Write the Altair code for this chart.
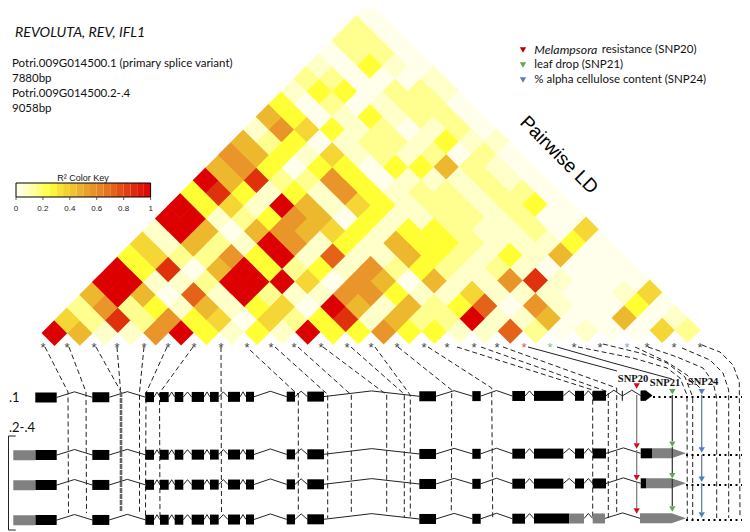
import altair as alt
import pandas as pd

# ---- pairwise LD: R2 bin of each cell, one list per distance between SNPs
R2_LEVELS = [0.01, 0.07, 0.15, 0.25, 0.36, 0.46, 0.56, 0.72, 0.86, 1.0]
LD_ROWS = [
 [9,5,1,1,6,9,3,1,3,1,9,3,3,6,3,3,1,1,7,2,0,1,0,0,4,2],
 [4,2,8,2,6,3,4,0,4,2,3,8,1,5,2,2,9,1,1,5,0,0,5,0,1],
 [2,6,2,3,1,5,1,3,4,0,9,5,1,5,2,3,7,0,6,1,0,0,3,0],
 [5,9,5,0,7,1,9,2,1,1,6,6,3,1,1,4,1,1,1,0,0,1,4],
 [9,9,1,1,2,9,9,9,4,0,6,5,0,5,1,1,6,8,1,0,0,0],
 [9,3,8,0,5,9,3,2,3,1,6,2,3,2,1,2,1,0,0,0,0],
 [3,4,2,2,6,3,9,1,7,1,1,5,3,2,1,3,1,5,0,0],
 [4,1,5,2,1,9,6,1,3,1,5,3,3,2,1,1,1,3,0],
 [1,9,5,0,5,6,5,4,3,1,3,3,2,1,1,2,0,4],
 [9,9,1,2,3,6,5,0,3,1,1,2,2,1,2,0,0],
 [9,3,4,1,9,5,1,4,3,1,2,2,1,2,3,0],
 [3,8,3,1,3,1,6,3,1,2,2,1,2,2,0],
 [9,5,8,2,2,6,3,0,1,1,1,2,1,0],
 [5,6,3,0,3,3,0,3,3,5,2,1,0],
 [6,5,3,1,4,1,2,1,2,0,2,0],
 [5,2,3,0,1,2,2,1,3,1,1],
 [1,6,4,3,1,2,0,1,2,0],
 [5,3,0,1,3,1,2,2,0],
 [3,0,2,0,1,2,2,0],
 [1,3,3,0,2,2,1],
 [2,2,0,0,0,1],
 [1,0,3,1,0],
 [0,2,2,0],
 [2,2,0],
 [2,0],
 [0],
]
CELL_X0, CELL_DX, CELL_Y0, CELL_DY, CELL_TILT = 54.5, 12.66, 333.0, 12.66, 0.0048

COLOR_STOPS = [0.0, 0.1, 0.2, 0.25, 0.35, 0.45, 0.55, 0.65, 0.75, 0.85, 1.0]
COLOR_RANGE = ["#FFFFF2", "#FFFFB8", "#FFFF66", "#FFFF33", "#F6D936", "#EEBB2E",
               "#E9982A", "#E67E20", "#E35816", "#E0340E", "#DC0000"]

# ---- SNP markers
SNP_X = [43,67,94,117,144,168,194,221,247,271,294,321,347,371,397,424,447,474,497,524,550,574,600,627,647,674,700]
SNP_Y = 345
SNP_COLOR = ["#444444"]*19 + ["#E0506A", "#7FBF7F", "#444444", "#444444", "#8FA0D0", "#444444", "#444444", "#444444"]

# ---- connectors from SNP marker to gene model
DASHED = [
 [(45,347),(68,392),(68.5,513)],
 [(69,347),(86,392),(86.5,513)],
 [(96,347),(120,390),(120.5,392)],
 [(117,347),(120.5,390)],
 [(144,347),(139.5,392),(139.5,513)],
 [(167,347),(146,393),(145.5,517)],
 [(193,347),(159.5,393),(160,517)],
 [(221,347),(221.5,515)],
 [(250,350),(295,392),(298.3,394),(298.3,513)],
 [(275,347),(325,392),(327.7,394),(327.7,518)],
 [(298,347),(348,392),(351.3,394),(351.3,513)],
 [(323,347),(383,392),(386.7,394),(386.7,513)],
 [(351,347),(403,393),(404.3,395),(404.3,518)],
 [(375,347),(409.5,394),(410.3,396),(410.3,518)],
 [(398,347),(451.7,390),(451.3,513)],
 [(428,347),(491.7,388),(492.7,518)],
 [(457,347),(592.7,390),(592.7,517)],
 [(481,347),(608.3,392),(608.3,518)],
 [(503,347),(616.7,388),(616.7,513)],
 [(578,347),(633,358),(667,368),(680,378),(687,395),(687.3,520)],
 [(603,344),(640,353),(667,363),(685,377),(692.7,397),(692.7,520)],
 [(635,347),(667,362),(687,375),(700,388)],
 [(648,347),(677,357),(703,368),(713,382),(716.7,398),(716.7,518)],
 [(682,348),(710,360),(723,373),(728.7,390),(728.7,518)],
 [(702,345),(720,352),(733,365),(739.3,382),(740,518)],
]
SOLID = [
 [(528,347),(617,371)],
 [(557,347),(613,363),(672,379)],
]
THICK = [(121,392),(121,512)]

# ---- gene models
ROW_Y = [396.5, 454.2, 484.2, 519.2]
ROW_TILT = 0.003
EXON_H = 5.0
EX_COMMON = [(35.3,56.7),(92.3,109.3),(145.3,154),(160,168.7),(174.7,183.3),(191.7,204),(210,218.7),
             (228,240),(246,254),(286.7,295),(307.3,324),(419.3,436),(472.3,480.7),(512.3,525)]
EX_TAIL = {
 0: [(534,563.3),(575,584),(592.7,606),(621.8,622.8),(640.7,646)],
 1: [(534,563.3),(575,584),(592.7,606),(640.7,652)],
 2: [(534,563.3),(575,584),(592.7,606),(640.7,646)],
 3: [(534,569.3)],
}
GRAY_BOX = [(1,13.3,35.3),(2,13.3,35.3),(3,13.3,35.3),(3,569.3,584),(3,592.7,605)]
INTRON_END = {3: [(584,592.7),(605,640)]}
ARROWS = [
 (0, "#000000", [640.7,646,652.5], [5,5,0]),
 (1, "#808080", [652,671.7,686], [5,5,0]),
 (2, "#808080", [646,671.7,686], [5,5,0]),
 (3, "#808080", [640,671.7,686], [5,5,0]),
]
DOT_Y = [397, 455, 485, 520]
DOT_START = [653, 686, 686, 686]
DOT_END = 750

# ---- associated SNP arrows
TRI = [
 ("#D01010", 636.7, [386,446,477.7,511]),
 ("#5FA84F", 672.3, [391.7,444.3,475.7,509]),
 ("#4F7FC0", 701.7, [391.7,450,479.3,515]),
]
TRI_LINES = [
 ("#777777", 636.7, [(395,443),(450,475),(482,508)]),
 ("#333333", 672.3, [(395,441),(447,473),(479,506)]),
 ("#5577A0", 701.7, [(395,448),(455,477),(483,512)]),
]

KEY_X, KEY_W, KEY_TOP, KEY_BOT = 16.0, 134.6, 183.0, 197.0
KEY_TICKS = [0, 0.2, 0.4, 0.6, 0.8, 1]
KEY_BINS = 20

XS = alt.Scale(domain=[8, 742])
YS = alt.Scale(domain=[532, 8])
def X(f="x"): return alt.X(f"{f}:Q", scale=XS, axis=None)
def Y(f="y"): return alt.Y(f"{f}:Q", scale=YS, axis=None, stack=None)
def row_y(m, x): return ROW_Y[m] - ROW_TILT*(x-350)

layers = []

# LD cells
cells = []
for r, row in enumerate(LD_ROWS):
    for k, lv in enumerate(row):
        x = CELL_X0 + CELL_DX*(2*k+r)
        y = CELL_Y0 - CELL_DY*r
        cells.append({"x": x + CELL_TILT*(y-CELL_Y0), "y": y - CELL_TILT*(x-CELL_X0), "r2": R2_LEVELS[lv]})
color_q = alt.Color("r2:Q", legend=None, scale=alt.Scale(domain=COLOR_STOPS, range=COLOR_RANGE, interpolate="rgb"))
layers.append(alt.Chart(pd.DataFrame(cells)).mark_point(filled=True, shape="diamond", size=675, opacity=1, strokeWidth=0)
              .encode(x=X(), y=Y(), color=color_q))

# colour key
bins = []
for b in range(KEY_BINS):
    v0, v1 = b/KEY_BINS, (b+1)/KEY_BINS
    bins.append({"x": KEY_X+KEY_W*v0, "x2": KEY_X+KEY_W*v1, "y": KEY_TOP, "y2": KEY_BOT, "r2": (v0+v1)/2})
layers.append(alt.Chart(pd.DataFrame(bins)).mark_rect(strokeWidth=0)
              .encode(x=X(), x2="x2:Q", y=Y(), y2="y2:Q", color=color_q))
layers.append(alt.Chart(pd.DataFrame([{"x":KEY_X,"x2":KEY_X+KEY_W,"y":KEY_TOP,"y2":KEY_BOT}]))
              .mark_rect(fill=None, stroke="#000000", strokeWidth=1)
              .encode(x=X(), x2="x2:Q", y=Y(), y2="y2:Q"))
ticks = pd.DataFrame([{"x":KEY_X+KEY_W*t,"y":KEY_BOT,"y2":KEY_BOT+3,"t":str(t)} for t in KEY_TICKS])
layers.append(alt.Chart(ticks).mark_rule(color="#333333", strokeWidth=0.8).encode(x=X(), y=Y(), y2="y2:Q"))
layers.append(alt.Chart(ticks).mark_text(font="Liberation Sans", fontSize=8, color="#222222", dy=9)
              .encode(x=X(), y=Y("y2"), text="t:N"))

def lines(paths, **kw):
    rows = []
    for i, p in enumerate(paths):
        for o, (x, y) in enumerate(p):
            rows.append({"x": x, "y": y, "o": o, "id": i})
    return alt.Chart(pd.DataFrame(rows)).mark_line(**kw).encode(x=X(), y=Y(), order="o:Q", detail="id:N")

# introns
introns = []
for m in range(len(ROW_Y)):
    ex = EX_COMMON + EX_TAIL[m]
    spans = [(ex[i][1], ex[i+1][0]) for i in range(len(ex)-1)] + INTRON_END.get(m, [])
    for a, b in spans:
        rise = 5.5 if b-a > 12 else 5
        introns.append([(a, row_y(m,a)), ((a+b)/2, row_y(m,(a+b)/2)-rise), (b, row_y(m,b))])
layers.append(lines(introns, color="#222222", strokeWidth=1))

# connectors
layers.append(lines(DASHED, color="#222222", strokeWidth=1, strokeDash=[5, 3]))
layers.append(lines(SOLID, color="#222222", strokeWidth=1))
layers.append(lines([THICK], color="#666666", strokeWidth=2.6, strokeDash=[5, 1]))

# exons
ex_rows = []
for m in range(len(ROW_Y)):
    for a, b in EX_COMMON + EX_TAIL[m]:
        yc = row_y(m, (a+b)/2)
        ex_rows.append({"x":a,"x2":b,"y":yc-EXON_H,"y2":yc+EXON_H,"c":"#000000"})
for m, a, b in GRAY_BOX:
    yc = row_y(m, (a+b)/2)
    ex_rows.append({"x":a,"x2":b,"y":yc-EXON_H,"y2":yc+EXON_H,"c":"#808080"})
layers.append(alt.Chart(pd.DataFrame(ex_rows)).mark_rect(strokeWidth=0)
              .encode(x=X(), x2="x2:Q", y=Y(), y2="y2:Q", color=alt.Color("c:N", scale=None)))

# arrow ends
for m, c, xs, hs in ARROWS:
    d = pd.DataFrame({"x": xs,
                      "y": [row_y(m,x)-h for x, h in zip(xs, hs)],
                      "y2": [row_y(m,x)+h for x, h in zip(xs, hs)]})
    layers.append(alt.Chart(d).mark_area(color=c, opacity=1, interpolate="linear")
                  .encode(x=X(), y=Y(), y2="y2:Q"))

# dotted tails
layers.append(lines([[(DOT_START[m], y), (DOT_END, y)] for m, y in enumerate(DOT_Y)],
                    color="#000000", strokeWidth=2, strokeDash=[2, 3.5]))

# SNP arrows
for c, x, segs in TRI_LINES:
    layers.append(lines([[(x, a), (x, b)] for a, b in segs], color=c, strokeWidth=1.2))
for c, x, ys in TRI:
    layers.append(alt.Chart(pd.DataFrame({"x":[x]*len(ys), "y":ys}))
                  .mark_point(filled=True, shape="triangle-down", size=40, color=c, opacity=1, strokeWidth=0)
                  .encode(x=X(), y=Y()))

# bracket
BRACKET = [(15.7,436),(8.5,436),(8.5,530),(15.7,530)]
layers.append(lines([BRACKET], color="#222222", strokeWidth=1))

# SNP stars
stars = pd.DataFrame({"x":SNP_X, "y":[SNP_Y]*len(SNP_X), "c":SNP_COLOR, "t":["*"]*len(SNP_X)})
layers.append(alt.Chart(stars).mark_text(font="Liberation Sans", fontSize=13, dy=3)
              .encode(x=X(), y=Y(), text="t:N", color=alt.Color("c:N", scale=None)))

def label(text, x, y, size, font="Lato", align="left", color="#111111", **kw):
    d = pd.DataFrame({"x":[x],"y":[y],"t":[text]})
    return alt.Chart(d).mark_text(font=font, fontSize=size, align=align, baseline="middle", color=color, **kw).encode(x=X(), y=Y(), text="t:N")

SERIF = "Liberation Serif"
ARIAL = "Liberation Sans"
layers += [
 label("REVOLUTA, REV, IFL1", 15, 33, 14.2, fontStyle="italic"),
 label("Potri.009G014500.1 (primary splice variant)", 12, 64, 11.5),
 label("7880bp", 12, 79, 11.5),
 label("Potri.009G014500.2-.4", 12, 94, 11.5),
 label("9058bp", 12, 109, 11.5),
 label("R\u00b2 Color Key", 83, 177.5, 9, font=ARIAL, align="center"),
 label("Melampsora", 534.3, 50, 12.3, fontStyle="italic"),
 label("resistance (SNP20)", 601.7, 50, 11.5),
 label("leaf  drop (SNP21)", 534.3, 65, 11.5),
 label("% alpha cellulose content (SNP24)", 534.3, 80, 11.5),
 label("Pairwise LD", 559, 155, 19, font=ARIAL, align="center", angle=45, color="#000000"),
 label(".1", 9, 398, 13),
 label(".2-.4", 9, 428, 13),
 label("SNP20", 633, 379, 10.5, font=SERIF, align="center", fontWeight="bold"),
 label("SNP21", 665, 383, 10.5, font=SERIF, align="center", fontWeight="bold"),
 label("SNP24", 703, 382, 10.5, font=SERIF, align="center", fontWeight="bold"),
]
# legend triangles
layers.append(alt.Chart(pd.DataFrame({"x":[523,523,523],"y":[50,65,80],"c":["#C00000","#5FA84F","#5B7DB8"]}))
              .mark_point(filled=True, shape="triangle-down", size=40, opacity=1, strokeWidth=0)
              .encode(x=X(), y=Y(), color=alt.Color("c:N", scale=None)))

chart = alt.layer(*layers).properties(width=734, height=524, padding=0, autosize="none", background="#FFFFFF") \
    .configure_view(strokeWidth=0)
chart.save("out.html", embed_options={"renderer": "svg", "actions": False})
